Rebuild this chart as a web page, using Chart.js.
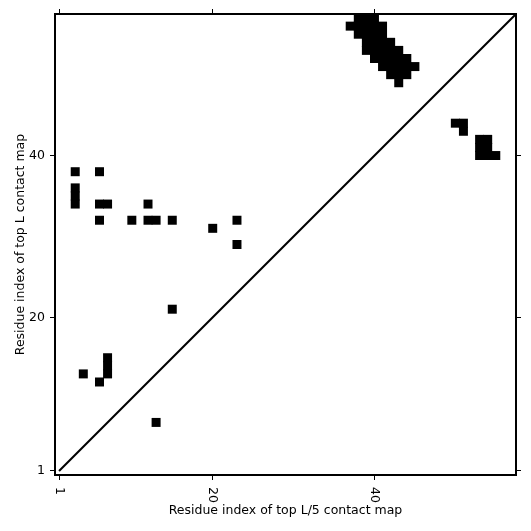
<!DOCTYPE html>
<html><head><meta charset="utf-8">
<script src="https://cdn.jsdelivr.net/npm/chart.js@4/dist/chart.umd.min.js"></script>
<style>html,body{margin:0;padding:0;background:#fff}#wrap{width:531px;height:531px}</style>
</head><body><div id="wrap"><canvas id="c" width="531" height="531"></canvas></div>
<script>
const TICKS = [1, 20, 40];
const TICK_LABELS = ['1', '20', '40'];
const AXIS_MIN = 0.5, AXIS_MAX = 57.5;
const X_TITLE = 'Residue index of top L/5 contact map';
const Y_TITLE = 'Residue index of top L contact map';
const contactX = [
  3, 6, 3, 3, 3, 6, 7, 12, 6, 10, 12, 13, 15, 23, 20, 23, 15, 7, 7, 7, 4, 6, 13,
  38, 39, 40, 37, 38, 39, 40, 41, 38, 39, 40, 41, 39, 40, 41, 42, 39, 40, 41, 42, 43,
  40, 41, 42, 43, 44, 41, 42, 43, 44, 45, 42, 43, 44, 43,
  50, 51, 51, 53, 54, 53, 54, 53, 54, 55
];
const contactY = [
  38, 38, 36, 35, 34, 34, 34, 34, 32, 32, 32, 32, 32, 32, 31, 29, 21, 15, 14, 13, 13, 12, 7,
  57, 57, 57, 56, 56, 56, 56, 56, 55, 55, 55, 55, 54, 54, 54, 54, 53, 53, 53, 53, 53,
  52, 52, 52, 52, 52, 51, 51, 51, 51, 51, 50, 50, 50, 49,
  44, 44, 43, 42, 42, 41, 41, 40, 40, 40
];
const diagonalX = [1, 57.5];
const diagonalY = [1, 57.5];

const FONT = { family: '"DejaVu Sans", sans-serif', size: 12.5 };

const points = contactX.map((x, i) => ({ x: x, y: contactY[i] }));
const diag = diagonalX.map((x, i) => ({ x: x, y: diagonalY[i] }));

const setTicks = s => { s.ticks = TICKS.map(v => ({ value: v })); };
const common = () => ({
  type: 'linear', min: AXIS_MIN, max: AXIS_MAX, afterBuildTicks: setTicks,
  grid: { display: true, drawOnChartArea: false, drawTicks: true, tickLength: 5, color: '#000', lineWidth: 1 },
  border: { display: true, color: '#000', width: 2 }
});

const cellRadius = ctx => {
  const s = ctx.chart.scales.x;
  const side = Math.abs(s.getPixelForValue(1) - s.getPixelForValue(0)) + 0.9;
  return side / Math.SQRT2;
};

const xLabelPlugin = {
  id: 'xlabels',
  afterDraw(chart) {
    const s = chart.scales.x;
    const ctx = chart.ctx;
    ctx.save();
    ctx.font = FONT.size + 'px ' + FONT.family;
    ctx.fillStyle = '#000';
    ctx.textAlign = 'left';
    ctx.textBaseline = 'middle';
    TICKS.forEach((v, i) => {
      const px = s.getPixelForValue(v);
      ctx.save();
      ctx.translate(px, s.top + 12);
      ctx.rotate(Math.PI / 2);
      ctx.fillText(TICK_LABELS[i], 0, 0);
      ctx.restore();
    });
    ctx.restore();
  }
};

new Chart(document.getElementById('c'), {
  type: 'scatter',
  data: {
    datasets: [
      {
        data: points, pointStyle: 'rect', pointRadius: cellRadius, pointHoverRadius: cellRadius,
        backgroundColor: '#000', borderWidth: 0, pointBorderWidth: 0
      },
      {
        type: 'line', data: diag, borderColor: '#000', borderWidth: 2, pointRadius: 0, fill: false, tension: 0
      }
    ]
  },
  options: {
    responsive: false, animation: false, events: [],
    layout: { padding: 0 },
    plugins: { legend: { display: false }, tooltip: { enabled: false } },
    scales: {
      x: Object.assign(common(), {
        position: 'bottom', ticks: { display: false },
        afterFit: s => { s.height = 56; },
        title: { display: true, text: X_TITLE, color: '#000', font: FONT, padding: { top: 0, bottom: 13 } }
      }),
      x2: Object.assign(common(), {
        position: 'top', ticks: { display: false },
        afterFit: s => { s.height = 14; }
      }),
      y: Object.assign(common(), {
        position: 'left',
        ticks: { display: true, color: '#000', font: FONT, padding: 5, callback: v => TICK_LABELS[TICKS.indexOf(v)] },
        afterFit: s => { s.width = 55; },
        title: { display: true, text: Y_TITLE, color: '#000', font: FONT, padding: { top: 13, bottom: 0 } }
      }),
      y2: Object.assign(common(), {
        position: 'right', ticks: { display: false },
        afterFit: s => { s.width = 15; }
      })
    }
  },
  plugins: [xLabelPlugin]
});
</script>
</body></html>
